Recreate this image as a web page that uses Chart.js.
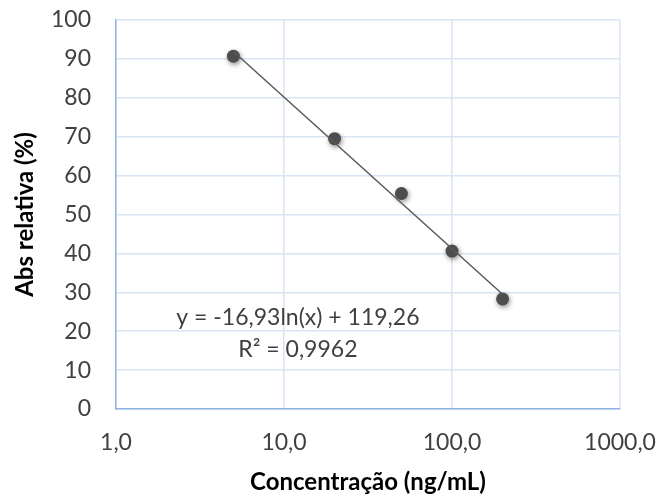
<!DOCTYPE html>
<html>
<head>
<meta charset="utf-8">
<script src="https://cdn.jsdelivr.net/npm/chart.js@4"></script>
<style>
  html, body { margin: 0; padding: 0; background: #fff; }
  #wrap { width: 661px; height: 500px; }
</style>
</head>
<body>
<div id="wrap"><canvas id="myChart"></canvas></div>
<script>
// data
const concentrations = [5, 20, 50, 100, 200];
const absRelativa = [90.7, 69.5, 55.4, 40.6, 28.3];
const trendX = [5, 200];
const trendY = [91.9, 29.5];
const xTicks = [1, 10, 100, 1000];
const xTickLabels = ["1,0", "10,0", "100,0", "1000,0"];
const equationLines = ["y = -16,93ln(x) + 119,26", "R² = 0,9962"];

const FONT = "Lato, 'Open Sans', sans-serif";

const shadowPlugin = {
  id: "markerShadow",
  beforeDatasetDraw(chart, args) {
    if (args.index !== 1) return;
    const ctx = chart.ctx;
    ctx.save();
    ctx.shadowColor = "rgba(0,0,0,0.45)";
    ctx.shadowBlur = 5;
    ctx.shadowOffsetX = 1;
    ctx.shadowOffsetY = 2;
  },
  afterDatasetDraw(chart, args) {
    if (args.index !== 1) return;
    chart.ctx.restore();
  }
};

const equationPlugin = {
  id: "equation",
  afterDatasetsDraw(chart) {
    const ctx = chart.ctx;
    const x = chart.scales.x.getPixelForValue(12.1);
    const y = chart.scales.y.getPixelForValue(23.4);
    ctx.save();
    ctx.font = "23px " + FONT;
    ctx.fillStyle = "#404040";
    ctx.textAlign = "center";
    ctx.textBaseline = "middle";
    ctx.fillText(equationLines[0], x, y);
    ctx.fillText(equationLines[1], x, y + 32);
    ctx.restore();
  }
};

const ctx = document.getElementById("myChart").getContext("2d");
const myChart = new Chart(ctx, {
  type: "scatter",
  data: {
    datasets: [
      {
        data: trendX.map((x, i) => ({ x: x, y: trendY[i] })),
        showLine: true,
        borderColor: "#595959",
        borderWidth: 1.5,
        pointRadius: 0
      },
      {
        data: concentrations.map((x, i) => ({ x: x, y: absRelativa[i] })),
        backgroundColor: "#4d4d4d",
        borderColor: "#4d4d4d",
        pointRadius: 6.5,
        borderWidth: 0
      }
    ]
  },
  options: {
    responsive: true,
    maintainAspectRatio: false,
    animation: false,
    layout: { padding: { left: 0, right: 41, top: 20, bottom: 0 } },
    plugins: {
      legend: { display: false },
      tooltip: { enabled: false }
    },
    scales: {
      x: {
        type: "logarithmic",
        min: 1,
        max: 1000,
        afterBuildTicks(scale) {
          scale.ticks = xTicks.map(v => ({ value: v }));
        },
        afterFit(scale) {
          scale.height = 91;
          scale.paddingLeft = 0;
          scale.paddingRight = 0;
        },
        border: { color: "#8fb4e3", width: 1.5 },
        grid: { color: "#d9e4f4", lineWidth: 1.5, drawTicks: false },
        ticks: {
          padding: 20,
          color: "#404040",
          font: { family: FONT, size: 23 },
          autoSkip: false,
          maxRotation: 0,
          callback: (v) => xTickLabels[xTicks.indexOf(v)] || ""
        },
        title: {
          display: true,
          text: "Concentração (ng/mL)",
          color: "#000",
          font: { family: FONT, size: 24, weight: "bold" },
          padding: { top: 0, bottom: 3 }
        }
      },
      y: {
        min: 0,
        max: 100,
        afterFit(scale) {
          scale.width = 116;
          scale.paddingTop = 0;
          scale.paddingBottom = 0;
        },
        border: { color: "#8fb4e3", width: 1.5 },
        grid: { color: "#d9e4f4", lineWidth: 1.5, drawTicks: false },
        ticks: {
          stepSize: 10,
          padding: 25,
          color: "#404040",
          font: { family: FONT, size: 23 }
        },
        title: {
          display: true,
          text: "Abs relativa (%)",
          color: "#000",
          font: { family: FONT, size: 24, weight: "bold" },
          padding: { top: 11, bottom: 0 }
        }
      }
    }
  },
  plugins: [shadowPlugin, equationPlugin]
});
</script>
</body>
</html>
